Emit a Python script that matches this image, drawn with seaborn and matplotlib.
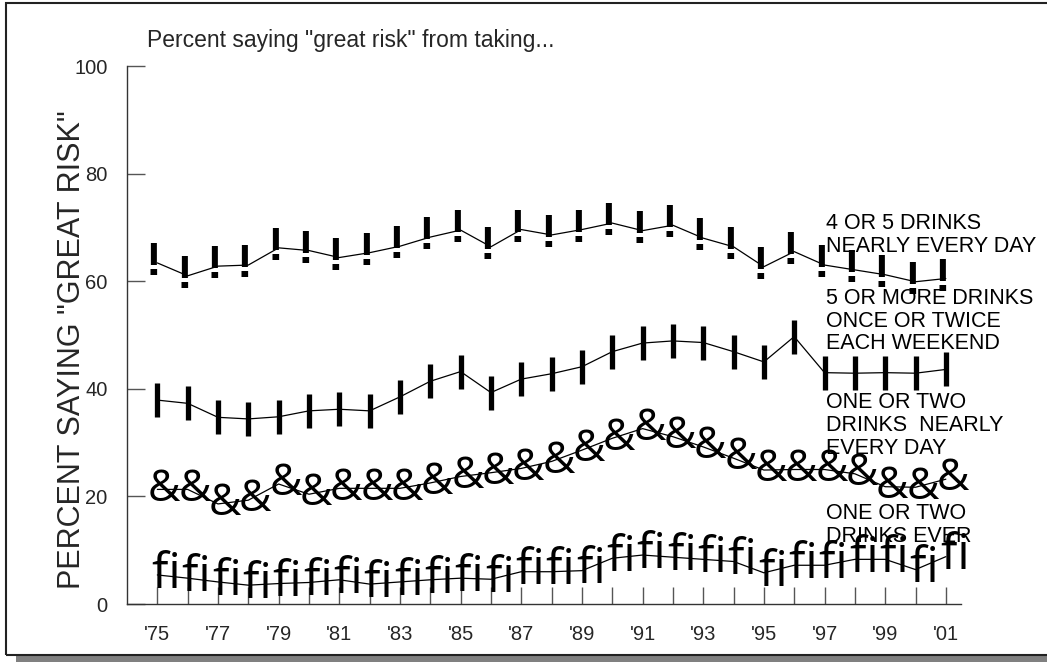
import numpy as np
import pandas as pd
import matplotlib
matplotlib.use("Agg")
import matplotlib.pyplot as plt
import matplotlib.transforms as mtransforms
from matplotlib.patches import Rectangle
import seaborn as sns

years = list(range(1975, 2002))

heavy_daily = [63.4, 61.0, 62.8, 63.0, 66.2, 65.7, 64.4, 65.3, 66.5, 68.2, 69.5, 66.4, 69.6, 68.6,
               69.6, 70.8, 69.4, 70.4, 68.0, 66.4, 62.7, 65.5, 63.0, 62.1, 61.2, 59.9, 60.5]
weekend_binge = [37.9, 37.3, 34.7, 34.4, 34.8, 35.9, 36.2, 35.9, 38.5, 41.4, 43.2, 39.3, 41.8, 42.8,
                 44.1, 46.9, 48.5, 48.9, 48.6, 46.9, 45.0, 49.7, 43.0, 42.9, 43.0, 42.9, 43.6]
light_daily = [21.3, 21.3, 18.6, 19.3, 22.3, 20.4, 21.5, 21.5, 21.5, 22.5, 23.7, 24.4, 25.2, 26.5,
               28.6, 30.8, 32.6, 31.1, 29.2, 27.1, 24.9, 25.0, 25.0, 24.2, 21.8, 21.7, 23.2]
light_ever = [5.4, 4.8, 4.1, 3.5, 3.8, 4.0, 4.5, 3.7, 4.1, 4.5, 4.8, 4.6, 6.0, 6.0,
              6.2, 8.5, 9.1, 8.7, 8.3, 7.9, 5.8, 7.2, 7.2, 8.3, 8.3, 6.4, 8.8]

series_names = ["4 OR 5 DRINKS\nNEARLY EVERY DAY",
                "5 OR MORE DRINKS\nONCE OR TWICE\nEACH WEEKEND",
                "ONE OR TWO\nDRINKS  NEARLY\nEVERY DAY",
                "ONE OR TWO\nDRINKS EVER"]
glyphs = ["!", "|", "&", "\ufb01"]
label_tops = [72.6, 58.8, 39.4, 18.8]

xtick_years = list(range(1975, 2002, 2))
xtick_labels = ["'" + str(y)[2:] for y in xtick_years]

df = pd.DataFrame({
    "year": years * 4,
    "pct": heavy_daily + weekend_binge + light_daily + light_ever,
    "series": sum([[n] * len(years) for n in series_names], []),
})

sns.set_style("white")
plt.rcParams["font.family"] = ["Liberation Sans", "DejaVu Sans"]

fig = plt.figure(figsize=(10.47, 6.62), dpi=100)
ax = fig.add_axes([127 / 1047, 58 / 662, (961 - 127) / 1047, (604 - 66) / 662])

sns.lineplot(data=df, x="year", y="pct", hue="series", units="series", estimator=None,
             palette=["black"] * 4, linewidth=0.9, legend=False, ax=ax, zorder=3)

# glyph markers, the way the old chart drew them
glyph_style = [
    dict(family=["Liberation Sans", "DejaVu Sans"], fontsize=34, fontweight="bold", dx=-2.5),
    None,
    dict(family=["Open Sans", "DejaVu Sans"], fontsize=32, fontweight="normal", dx=5),
    dict(family=["Open Sans", "DejaVu Sans"], fontsize=35, fontweight="normal", dx=6),
]
for name, g, st in zip(series_names, glyphs, glyph_style):
    sub = df[df["series"] == name]
    if st is None:
        # thick bar marker
        ax.plot(sub["year"], sub["pct"], linestyle="none", marker="|", markersize=25,
                markeredgewidth=3.8, color="black", zorder=4)
        continue
    tr = mtransforms.offset_copy(ax.transData, fig=fig, x=st["dx"], y=0, units="points")
    for x, y in zip(sub["year"], sub["pct"]):
        ax.text(x, y, g, transform=tr, ha="center", va="center",
                fontsize=st["fontsize"], fontweight=st["fontweight"], family=st["family"],
                color="black", zorder=4)

for name, top in zip(series_names, label_tops):
    ax.text(1997.05, top, name, ha="left", va="top", fontsize=15.5, linespacing=1.12,
            color="black", zorder=5)

ax.set_xlim(1974, 2001.5)
ax.set_ylim(0, 100)
ax.set_yticks([0, 20, 40, 60, 80, 100])
ax.set_xticks(xtick_years)
ax.set_xticklabels(xtick_labels)
ax.set_xticks(years, minor=True)
ax.tick_params(axis="x", which="both", direction="in", length=12, width=1, color="#555555",
               labelsize=14.5, pad=15)
ax.tick_params(axis="y", direction="in", length=13, width=1, color="#555555",
               labelsize=14.5, pad=14)
ax.tick_params(axis="y", which="both", left=True)
ax.tick_params(axis="x", which="both", bottom=True)
for s in ["top", "right"]:
    ax.spines[s].set_visible(False)
for s in ["left", "bottom"]:
    ax.spines[s].set_color("#333333")
    ax.spines[s].set_linewidth(1)
ax.set_xlabel("")
ax.set_ylabel('PERCENT SAYING "GREAT RISK"', fontsize=22)
ax.yaxis.set_label_coords(-0.048, 0.472)
fig.text(147 / 1047, 1 - 41 / 662, 'Percent saying "great risk" from taking...',
         fontsize=16.5, va="center", ha="left")

# frame and drop shadow
fig.patches.append(Rectangle((16 / 1047, 0), 1, 7 / 662, transform=fig.transFigure,
                             facecolor="#808080", edgecolor="none", zorder=0))
fig.patches.append(Rectangle((6 / 1047, 7 / 662), 1.1, (662 - 10) / 662, transform=fig.transFigure,
                             facecolor="none", edgecolor="#222222", linewidth=1.5, zorder=1))

fig.savefig("out.png", dpi=100)
